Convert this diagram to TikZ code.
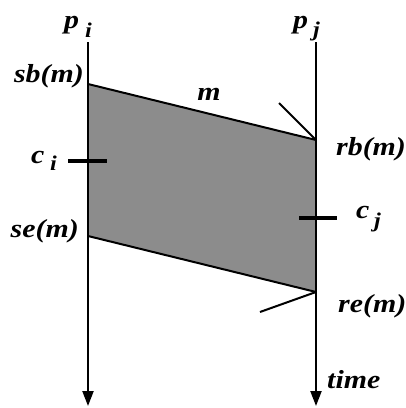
\documentclass[tikz,border=0pt]{standalone}
\usepackage{fontspec}
\setmainfont{Liberation Serif}
\usetikzlibrary{arrows.meta}
\newcommand\widetxt[1]{\scalebox{1.15}[1]{#1}}
\begin{document}
\begin{tikzpicture}[x=1pt,y=-1pt,
  lbl/.style={inner sep=0pt,font=\bfseries\itshape\fontsize{26}{28}\selectfont},
  sub/.style={inner sep=0pt,font=\bfseries\itshape\fontsize{21}{24}\selectfont},
  life/.style={line width=2.2pt,-{Triangle[length=15pt,width=11pt]}},
  edge/.style={line width=2pt},
  tick/.style={line width=4pt},
  dtick/.style={line width=2pt},
  shade/.style={fill=black!45}]
\useasboundingbox (0,0) rectangle (406,408);
% lifeline end points
\coordinate (pitop) at (88,42);
\coordinate (pibot) at (88,406);
\coordinate (pjtop) at (316,42);
\coordinate (pjbot) at (316,406);
% message band corners
\coordinate (sb) at (88,84);
\coordinate (rb) at (316,140);
\coordinate (re) at (316,292);
\coordinate (se) at (88,236);
% tick ends
\coordinate (rbt) at (279,103);
\coordinate (ret) at (260,312);
\coordinate (cia) at (68,161);
\coordinate (cib) at (107,161);
\coordinate (cja) at (299,218);
\coordinate (cjb) at (337,218);
% band
\fill[shade] (sb) -- (rb) -- (re) -- (se) -- cycle;
\draw[edge] (sb) -- (rb);
\draw[edge] (se) -- (re);
% lifelines
\draw[life] (pitop) -- (pibot);
\draw[life] (pjtop) -- (pjbot);
% ticks
\draw[dtick] (rbt) -- (rb);
\draw[dtick] (ret) -- (re);
\draw[tick] (cia) -- (cib);
\draw[tick] (cja) -- (cjb);
% labels
\node[lbl,anchor=base west] (lp1) at (64,28) {\widetxt{p}};
\node[sub,anchor=base west] (li1) at (85,37) {\widetxt{i}};
\node[lbl,anchor=base west] (lp2) at (293,28) {\widetxt{p}};
\node[sub,anchor=base west] (lj2) at (313,36) {\widetxt{j}};
\node[lbl,anchor=base east] (lsb) at (84,82) {\widetxt{sb(m)}};
\node[lbl,anchor=base east] (lse) at (79,237) {\widetxt{se(m)}};
\node[lbl,anchor=base west] (lrb) at (336,155) {\widetxt{rb(m)}};
\node[lbl,anchor=base west] (lre) at (338,312) {\widetxt{re(m)}};
\node[lbl,anchor=base west] (ltime) at (327,388) {\widetxt{time}};
\node[lbl,anchor=base] (lm) at (209,100) {\widetxt{m}};
\node[lbl,anchor=base west] (lc1) at (31,163) {\widetxt{c}};
\node[sub,anchor=base west] (li2) at (50,170) {\widetxt{i}};
\node[lbl,anchor=base west] (lc2) at (356,218) {\widetxt{c}};
\node[sub,anchor=base west] (lj3) at (374,227) {\widetxt{j}};
\end{tikzpicture}
\end{document}
